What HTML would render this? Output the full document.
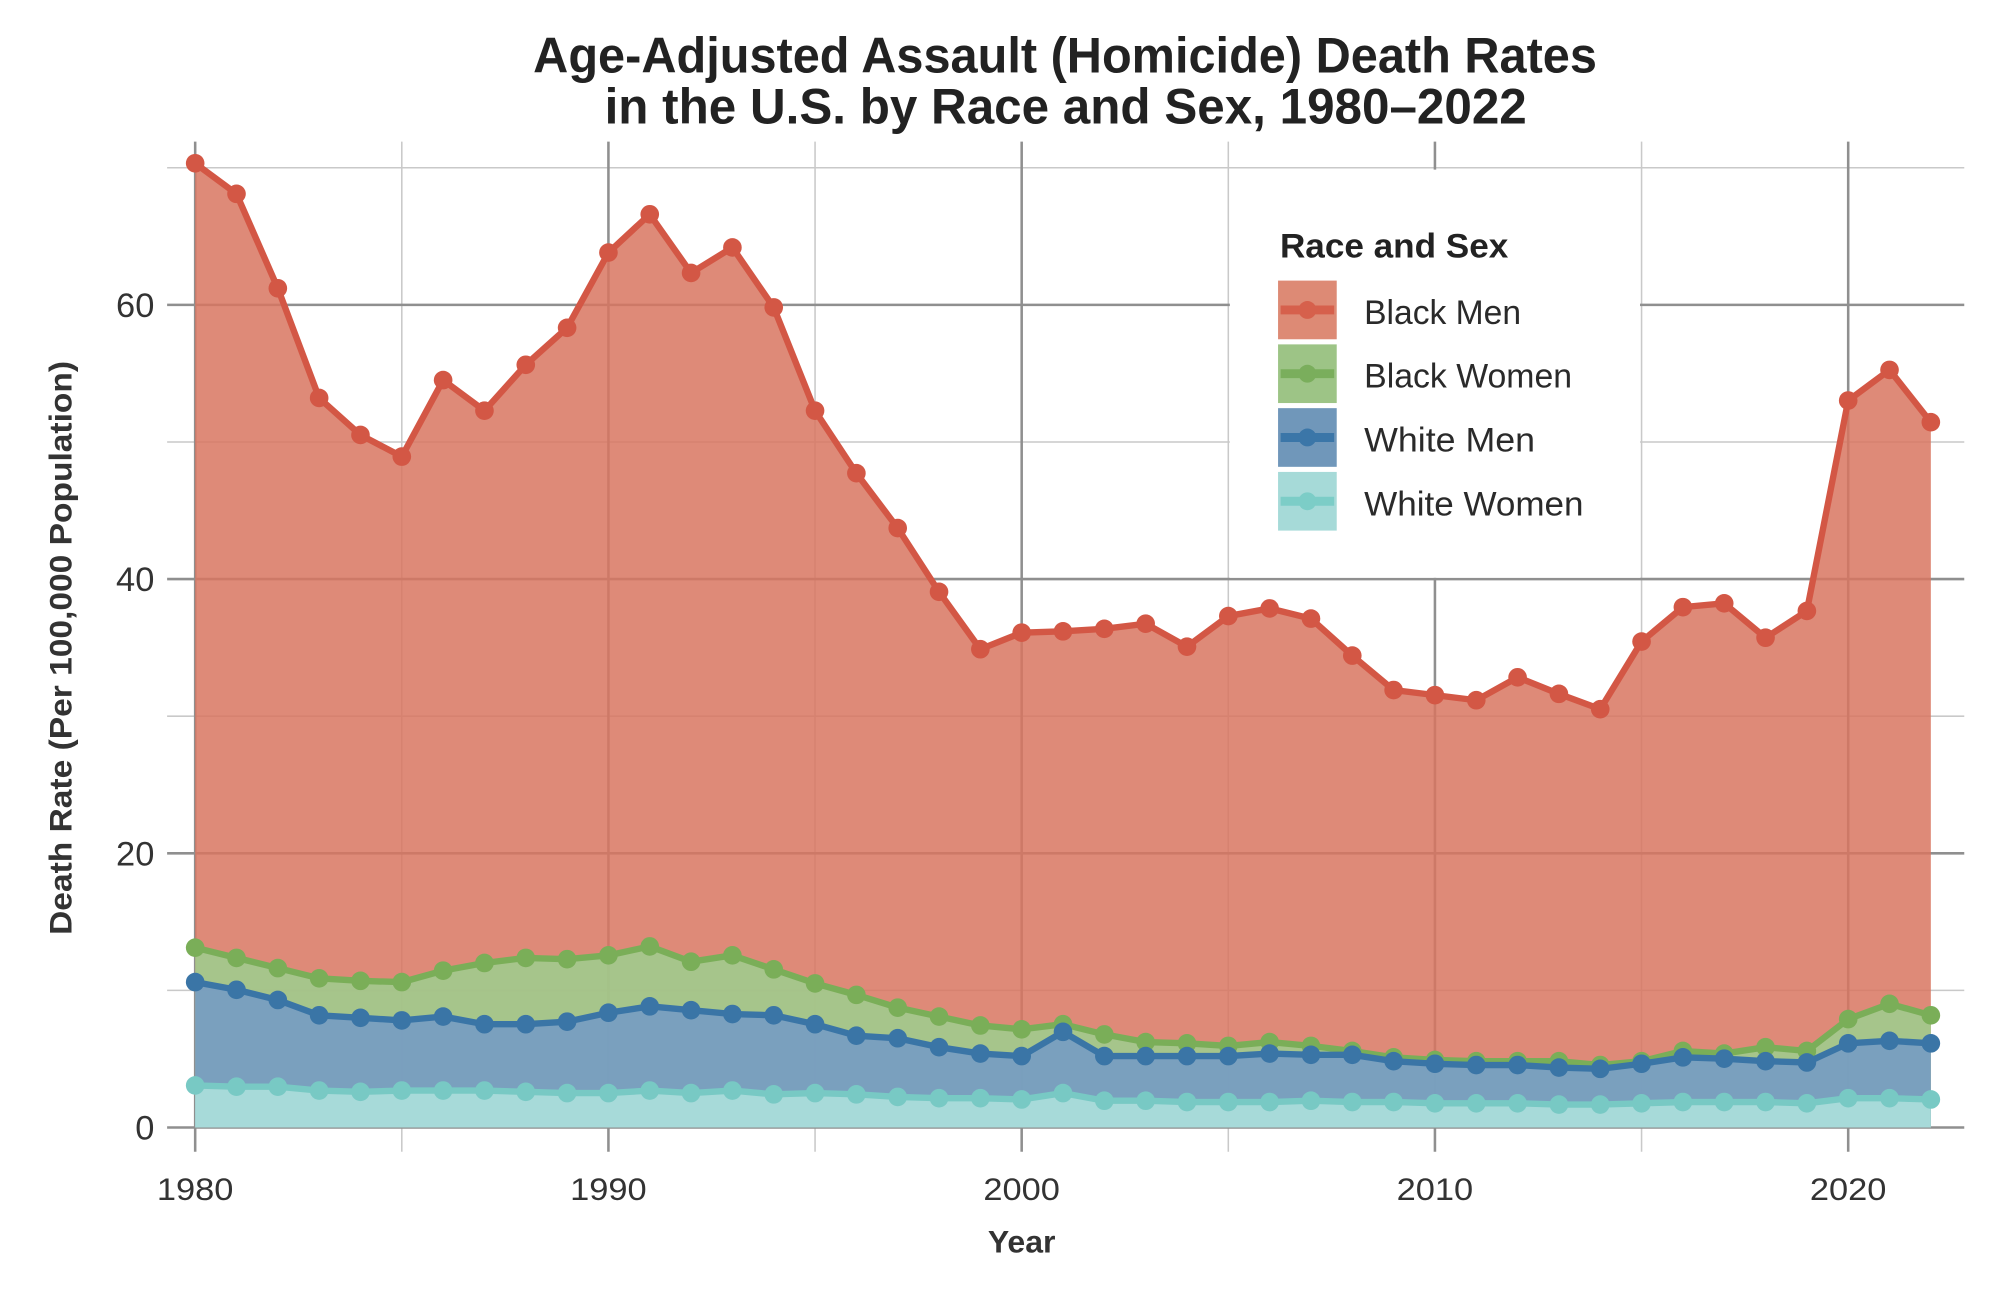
<!DOCTYPE html>
<html>
<head>
<meta charset="utf-8">
<style>
html,body{margin:0;padding:0;background:#ffffff;}
svg{display:block;}
text{font-family:"Liberation Sans",sans-serif;}
</style>
</head>
<body>
<svg width="2000" height="1289" viewBox="0 0 1568 1010.6" xmlns="http://www.w3.org/2000/svg">
<defs>
<marker id="mr" viewBox="-8 -8 16 16" markerWidth="16" markerHeight="16" markerUnits="userSpaceOnUse" refX="0" refY="0"><circle r="7.3" fill="#d35745"/></marker>
<marker id="mg" viewBox="-8 -8 16 16" markerWidth="16" markerHeight="16" markerUnits="userSpaceOnUse" refX="0" refY="0"><circle r="7.3" fill="#7aae58"/></marker>
<marker id="mb" viewBox="-8 -8 16 16" markerWidth="16" markerHeight="16" markerUnits="userSpaceOnUse" refX="0" refY="0"><circle r="7.3" fill="#3a75a6"/></marker>
<marker id="mt" viewBox="-8 -8 16 16" markerWidth="16" markerHeight="16" markerUnits="userSpaceOnUse" refX="0" refY="0"><circle r="7.3" fill="#78c9c4"/></marker>
</defs>
<rect x="0" y="0" width="1568" height="1010.6" fill="#ffffff"/>

<!-- Title -->
<text x="835" y="57" text-anchor="middle" font-size="39" font-weight="bold" fill="#222" textLength="834" lengthAdjust="spacingAndGlyphs">Age-Adjusted Assault (Homicide) Death Rates</text>
<text x="835.5" y="97" text-anchor="middle" font-size="39" font-weight="bold" fill="#222" textLength="723" lengthAdjust="spacingAndGlyphs">in the U.S. by Race and Sex, 1980–2022</text>

<!-- minor gridlines -->
<g stroke="#c9c9c9" stroke-width="1.2">
<line x1="315" y1="111" x2="315" y2="903"/>
<line x1="639" y1="111" x2="639" y2="903"/>
<line x1="963" y1="111" x2="963" y2="903"/>
<line x1="1287" y1="111" x2="1287" y2="903"/>
<line x1="131" y1="776.5" x2="1540" y2="776.5"/>
<line x1="131" y1="561.5" x2="1540" y2="561.5"/>
<line x1="131" y1="346.5" x2="1540" y2="346.5"/>
<line x1="131" y1="131.5" x2="1540" y2="131.5"/>
</g>
<!-- major gridlines -->
<g stroke="#8f8f8f" stroke-width="2">
<line x1="153" y1="111" x2="153" y2="903"/>
<line x1="477" y1="111" x2="477" y2="903"/>
<line x1="801" y1="111" x2="801" y2="903"/>
<line x1="1125" y1="111" x2="1125" y2="903"/>
<line x1="1449" y1="111" x2="1449" y2="903"/>
<line x1="131" y1="884" x2="1540" y2="884"/>
<line x1="131" y1="669" x2="1540" y2="669"/>
<line x1="131" y1="454" x2="1540" y2="454"/>
<line x1="131" y1="239" x2="1540" y2="239"/>
</g>

<!-- Legend background -->
<rect x="964.2" y="133" width="321.6" height="320" fill="#ffffff"/>

<!-- Areas -->
<polygon fill="#d87560" fill-opacity="0.85" points="153,884 153,128 185.4,152 217.8,226 250.2,312 282.6,341 315,358 347.4,298 379.8,322 412.2,286 444.6,257 477,198 509.4,168 541.8,214 574.2,194 606.6,241 639,322 671.4,371 703.8,414 736.2,464 768.6,509 801,496 833.4,495 865.8,493 898.2,489 930.6,507 963,483 995.4,477 1027.8,485 1060.2,514 1092.6,541 1125,545 1157.4,549 1189.8,531 1222.2,544 1254.6,556 1287,503 1319.4,476 1351.8,473 1384.2,500 1416.6,479 1449,314 1481.4,290 1513.8,331 1513.8,884"/>
<polygon fill="#9ccf8e" fill-opacity="0.85" points="153,884 153,743 185.4,751 217.8,759 250.2,767 282.6,769 315,770 347.4,761 379.8,755 412.2,751 444.6,752 477,749 509.4,742 541.8,754 574.2,749 606.6,760 639,771 671.4,780 703.8,790 736.2,797 768.6,804 801,807 833.4,803 865.8,811 898.2,817 930.6,818 963,820 995.4,817 1027.8,820 1060.2,824 1092.6,829 1125,831 1157.4,832 1189.8,832 1222.2,832 1254.6,835 1287,832 1319.4,824 1351.8,826 1384.2,821 1416.6,824 1449,799 1481.4,787 1513.8,796 1513.8,884"/>
<polygon fill="#7299c7" fill-opacity="0.85" points="153,884 153,770 185.4,776 217.8,784 250.2,796 282.6,798 315,800 347.4,797 379.8,803 412.2,803 444.6,801 477,794 509.4,789 541.8,792 574.2,795 606.6,796 639,803 671.4,812 703.8,814 736.2,821 768.6,826 801,828 833.4,809 865.8,828 898.2,828 930.6,828 963,828 995.4,826 1027.8,827 1060.2,827 1092.6,832 1125,834 1157.4,835 1189.8,835 1222.2,837 1254.6,838 1287,834 1319.4,829 1351.8,830 1384.2,832 1416.6,833 1449,818 1481.4,816 1513.8,818 1513.8,884"/>
<polygon fill="#afe4de" fill-opacity="0.85" points="153,884 153,851 185.4,852 217.8,852 250.2,855 282.6,856 315,855 347.4,855 379.8,855 412.2,856 444.6,857 477,857 509.4,855 541.8,857 574.2,855 606.6,858 639,857 671.4,858 703.8,860 736.2,861 768.6,861 801,862 833.4,857 865.8,863 898.2,863 930.6,864 963,864 995.4,864 1027.8,863 1060.2,864 1092.6,864 1125,865 1157.4,865 1189.8,865 1222.2,866 1254.6,866 1287,865 1319.4,864 1351.8,864 1384.2,864 1416.6,865 1449,861 1481.4,861 1513.8,862 1513.8,884"/>

<!-- Lines -->
<g fill="none" stroke-width="5" stroke-linejoin="round" stroke-linecap="round">
<polyline stroke="#d35745" marker-start="url(#mr)" marker-mid="url(#mr)" marker-end="url(#mr)" points="153,128 185.4,152 217.8,226 250.2,312 282.6,341 315,358 347.4,298 379.8,322 412.2,286 444.6,257 477,198 509.4,168 541.8,214 574.2,194 606.6,241 639,322 671.4,371 703.8,414 736.2,464 768.6,509 801,496 833.4,495 865.8,493 898.2,489 930.6,507 963,483 995.4,477 1027.8,485 1060.2,514 1092.6,541 1125,545 1157.4,549 1189.8,531 1222.2,544 1254.6,556 1287,503 1319.4,476 1351.8,473 1384.2,500 1416.6,479 1449,314 1481.4,290 1513.8,331"/>
<polyline stroke="#7aae58" marker-start="url(#mg)" marker-mid="url(#mg)" marker-end="url(#mg)" points="153,743 185.4,751 217.8,759 250.2,767 282.6,769 315,770 347.4,761 379.8,755 412.2,751 444.6,752 477,749 509.4,742 541.8,754 574.2,749 606.6,760 639,771 671.4,780 703.8,790 736.2,797 768.6,804 801,807 833.4,803 865.8,811 898.2,817 930.6,818 963,820 995.4,817 1027.8,820 1060.2,824 1092.6,829 1125,831 1157.4,832 1189.8,832 1222.2,832 1254.6,835 1287,832 1319.4,824 1351.8,826 1384.2,821 1416.6,824 1449,799 1481.4,787 1513.8,796"/>
<polyline stroke="#3a75a6" marker-start="url(#mb)" marker-mid="url(#mb)" marker-end="url(#mb)" points="153,770 185.4,776 217.8,784 250.2,796 282.6,798 315,800 347.4,797 379.8,803 412.2,803 444.6,801 477,794 509.4,789 541.8,792 574.2,795 606.6,796 639,803 671.4,812 703.8,814 736.2,821 768.6,826 801,828 833.4,809 865.8,828 898.2,828 930.6,828 963,828 995.4,826 1027.8,827 1060.2,827 1092.6,832 1125,834 1157.4,835 1189.8,835 1222.2,837 1254.6,838 1287,834 1319.4,829 1351.8,830 1384.2,832 1416.6,833 1449,818 1481.4,816 1513.8,818"/>
<polyline stroke="#78c9c4" marker-start="url(#mt)" marker-mid="url(#mt)" marker-end="url(#mt)" points="153,851 185.4,852 217.8,852 250.2,855 282.6,856 315,855 347.4,855 379.8,855 412.2,856 444.6,857 477,857 509.4,855 541.8,857 574.2,855 606.6,858 639,857 671.4,858 703.8,860 736.2,861 768.6,861 801,862 833.4,857 865.8,863 898.2,863 930.6,864 963,864 995.4,864 1027.8,863 1060.2,864 1092.6,864 1125,865 1157.4,865 1189.8,865 1222.2,866 1254.6,866 1287,865 1319.4,864 1351.8,864 1384.2,864 1416.6,865 1449,861 1481.4,861 1513.8,862"/>
</g>

<!-- Y tick labels -->
<g font-size="27" fill="#333" text-anchor="end">
<text x="121" y="893.5">0</text>
<text x="121" y="678.5">20</text>
<text x="121" y="463.5">40</text>
<text x="121" y="248.5">60</text>
</g>
<!-- X tick labels -->
<g font-size="25" fill="#333" text-anchor="middle">
<text x="153" y="941" textLength="60" lengthAdjust="spacingAndGlyphs">1980</text>
<text x="477" y="941" textLength="60" lengthAdjust="spacingAndGlyphs">1990</text>
<text x="801" y="941" textLength="60" lengthAdjust="spacingAndGlyphs">2000</text>
<text x="1125" y="941" textLength="60" lengthAdjust="spacingAndGlyphs">2010</text>
<text x="1449" y="941" textLength="60" lengthAdjust="spacingAndGlyphs">2020</text>
</g>

<!-- Axis titles -->
<text x="801" y="982" text-anchor="middle" font-size="25" font-weight="bold" fill="#333" textLength="53" lengthAdjust="spacingAndGlyphs">Year</text>
<text transform="translate(56,508) rotate(-90)" x="0" y="0" text-anchor="middle" font-size="25" font-weight="bold" fill="#333" textLength="450" lengthAdjust="spacingAndGlyphs">Death Rate (Per 100,000 Population)</text>

<!-- Legend -->
<text x="1003.5" y="202" font-size="27" font-weight="bold" fill="#222" textLength="179" lengthAdjust="spacingAndGlyphs">Race and Sex</text>
<rect x="1002" y="220" width="46" height="46" fill="#dd8a75"/>
<rect x="1002" y="270" width="46" height="46" fill="#9dc486"/>
<rect x="1002" y="320" width="46" height="46" fill="#7097ba"/>
<rect x="1002" y="370" width="46" height="46" fill="#a6dad8"/>
<g stroke-width="7">
<line x1="1004" y1="243" x2="1046" y2="243" stroke="#d6604c"/>
<line x1="1004" y1="293" x2="1046" y2="293" stroke="#7aae5c"/>
<line x1="1004" y1="343" x2="1046" y2="343" stroke="#3b76a8"/>
<line x1="1004" y1="393" x2="1046" y2="393" stroke="#7ccdc7"/>
</g>
<circle cx="1025" cy="243" r="7" fill="#d6604c"/>
<circle cx="1025" cy="293" r="7" fill="#7aae5c"/>
<circle cx="1025" cy="343" r="7" fill="#3b76a8"/>
<circle cx="1025" cy="393" r="7" fill="#7ccdc7"/>
<g font-size="27" fill="#2a2a2a">
<text x="1069.5" y="254" textLength="123" lengthAdjust="spacingAndGlyphs">Black Men</text>
<text x="1069.5" y="304" textLength="163" lengthAdjust="spacingAndGlyphs">Black Women</text>
<text x="1069.5" y="354" textLength="134" lengthAdjust="spacingAndGlyphs">White Men</text>
<text x="1069.5" y="404" textLength="172" lengthAdjust="spacingAndGlyphs">White Women</text>
</g>
</svg>
</body>
</html>
